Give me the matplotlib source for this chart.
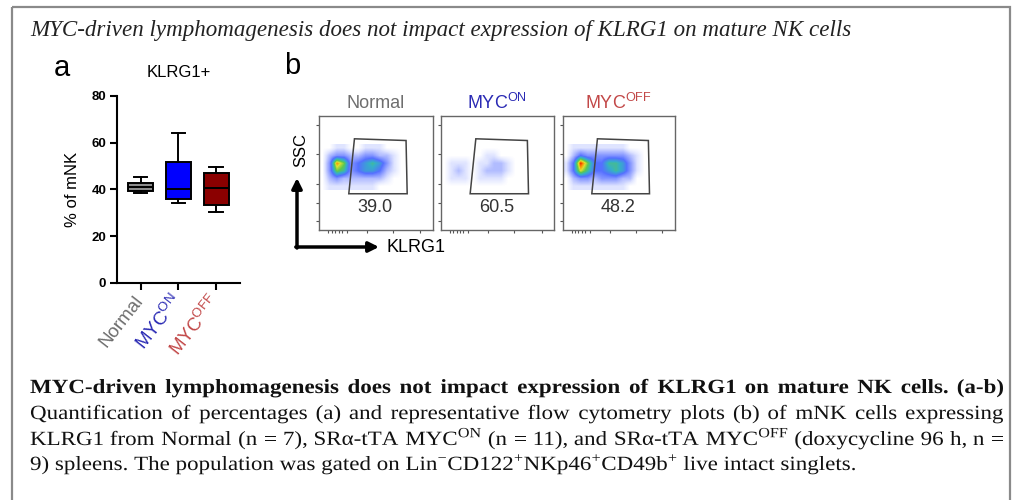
import numpy as np
import matplotlib.pyplot as plt
from matplotlib.colors import LinearSegmentedColormap
from matplotlib.patches import Rectangle, Polygon, PathPatch
from matplotlib.textpath import TextPath
from matplotlib.font_manager import FontProperties
from matplotlib.transforms import Affine2D, ScaledTranslation

plt.rcParams["font.family"] = ["Liberation Sans", "DejaVu Sans"]
plt.rcParams["mathtext.fontset"] = "custom"
plt.rcParams["mathtext.rm"] = "Liberation Serif"
plt.rcParams["mathtext.sf"] = "Liberation Sans"

# --- panel a: box plot (% of mNK that are KLRG1+) ---
groups = ["Normal", r"MYC$^{\mathsf{ON}}$", r"MYC$^{\mathsf{OFF}}$"]
# whisker low, q1, median, q3, whisker high
normal_stats = [38.3, 39.4, 41.1, 42.9, 45.4]
myc_on_stats = [34.0, 36.0, 40.3, 51.6, 64.0]
myc_off_stats = [30.3, 33.4, 40.4, 47.1, 49.4]
box_colors = ["#8c8c8c", "#0000ff", "#8b0000"]
label_colors = ["#6e6e6e", "#2a2ab4", "#c24848"]
yticks = [0, 20, 40, 60, 80]

# --- panel b: flow cytometry plots ---
flow_titles = ["Normal", r"MYC$^{\mathsf{ON}}$", r"MYC$^{\mathsf{OFF}}$"]
flow_pct = ["39.0", "60.5", "48.2"]
gate_x = [0.31, 0.765, 0.775, 0.26]
gate_y = [0.80, 0.785, 0.318, 0.318]
# coarse density (0 = empty, 10 = peak), rows top->bottom
dens_normal = [
    [0, 0, 1, 1, 0, 0, 1, 1, 1, 0, 0, 0],
    [0, 2, 3, 3, 2, 2, 3, 3, 2, 2, 1, 0],
    [0, 3, 9, 7, 3, 4, 5, 6, 5, 3, 1, 0],
    [0, 3, 7, 6, 3, 4, 5, 5, 4, 2, 1, 0],
    [0, 2, 3, 2, 2, 2, 2, 2, 2, 1, 0, 0],
    [0, 1, 1, 1, 1, 1, 1, 1, 0, 0, 0, 0],
]
dens_myc_on = [
    [0, 0, 0, 0, 0, 0, 0, 0, 0, 0, 0, 0],
    [0, 0, 0, 0, 0, 0, 1, 1, 0, 0, 0, 0],
    [0, 1, 1, 1, 0, 1, 1, 2, 2, 1, 0, 0],
    [0, 1, 2, 1, 0, 1, 2, 2, 2, 1, 0, 0],
    [0, 1, 1, 1, 0, 1, 1, 1, 1, 0, 0, 0],
    [0, 0, 0, 0, 0, 0, 0, 0, 0, 0, 0, 0],
]
dens_myc_off = [
    [0, 1, 1, 1, 1, 1, 1, 1, 1, 0, 0, 0],
    [0, 2, 4, 3, 3, 3, 3, 3, 3, 2, 1, 0],
    [1, 4, 10, 7, 4, 4, 6, 6, 5, 3, 1, 0],
    [1, 4, 8, 6, 4, 4, 5, 6, 5, 3, 1, 0],
    [0, 2, 3, 3, 2, 3, 3, 3, 2, 2, 0, 0],
    [0, 1, 1, 1, 1, 1, 1, 1, 1, 0, 0, 0],
]
densities = [dens_normal, dens_myc_on, dens_myc_off]

title = "MYC-driven lymphomagenesis does not impact expression of KLRG1 on mature NK cells"
caption_bold = "MYC-driven lymphomagenesis does not impact expression of KLRG1 on mature NK cells. (a-b)"
caption_lines = [
    "Quantification of percentages (a) and representative flow cytometry plots (b) of mNK cells expressing",
    r"KLRG1 from Normal (n = 7), SR$\mathrm{\alpha}$-tTA MYC$^{\mathrm{ON}}$ (n = 11), and SR$\mathrm{\alpha}$-tTA MYC$^{\mathrm{OFF}}$ (doxycycline 96 h, n =",
]
caption_last = r"9) spleens. The population was gated on Lin$^{\mathrm{-}}$CD122$^{+}$NKp46$^{+}$CD49b$^{+}$ live intact singlets."

W, H = 1013, 500
fig = plt.figure(figsize=(W / 100, H / 100), dpi=100)

# overlay in pixel coords for border, text and arrows
ov = fig.add_axes([0, 0, 1, 1])
ov.set_xlim(0, W)
ov.set_ylim(H, 0)
ov.axis("off")
ov.add_patch(Rectangle((12, 7), 998, 510, fill=False, edgecolor="#8a8a8a", lw=1.6))

ov.text(30, 36, title, fontsize=16.6, family="Liberation Serif", style="italic", color="#222222")
ov.text(62, 68, "a", fontsize=21, ha="center", va="center")
ov.text(292, 66, "b", fontsize=21, ha="center", va="center")

# box plot
ax = fig.add_axes([117.3 / W, 1 - 282.7 / H, 122.7 / W, 186.7 / H])
stats = []
for s in [normal_stats, myc_on_stats, myc_off_stats]:
    stats.append({"whislo": s[0], "q1": s[1], "med": s[2], "q3": s[3], "whishi": s[4], "fliers": []})
bp = ax.bxp(stats, positions=[1, 2, 3], widths=0.66, patch_artist=True, capwidths=0.36,
            boxprops=dict(edgecolor="black", lw=1.4),
            medianprops=dict(color="black", lw=1.4),
            whiskerprops=dict(color="black", lw=1.4),
            capprops=dict(color="black", lw=1.4))
for patch, c in zip(bp["boxes"], box_colors):
    patch.set_facecolor(c)
ax.set_xlim(0.385, 3.63)
ax.set_ylim(0, 80)
ax.set_yticks(yticks)
ax.set_yticklabels([str(v) for v in yticks], fontsize=9.5, fontweight="bold")
ax.set_xticks([1, 2, 3])
ax.set_xticklabels(groups, fontsize=13.5, rotation=52, ha="right", va="center", rotation_mode="anchor")
shift = ScaledTranslation(13 / 100, 0, fig.dpi_scale_trans)
for lab, c in zip(ax.get_xticklabels(), label_colors):
    lab.set_color(c)
    lab.set_transform(lab.get_transform() + shift)
ax.tick_params(width=1.5, length=5, pad=3)
ax.tick_params(axis="x", pad=6)
for sp in ["top", "right"]:
    ax.spines[sp].set_visible(False)
for sp in ["left", "bottom"]:
    ax.spines[sp].set_linewidth(1.5)
ax.set_title("KLRG1+", fontsize=12, pad=14)
ax.set_ylabel("% of mNK", fontsize=12, labelpad=8)
ax.patch.set_alpha(0)

# flow plots
cmap = LinearSegmentedColormap.from_list("flow", [
    (0.0, "#ffffff"), (0.1, "#dfe4ff"), (0.25, "#9aa8ff"), (0.4, "#5570ff"),
    (0.55, "#35b0c8"), (0.68, "#5cc850"), (0.8, "#dce030"), (0.9, "#ff8c00"), (1.0, "#e82000")])
flow_x = [(319.3, 432.7), (440.7, 554.0), (562.7, 674.7)]
for (x0, x1), ttl, c, pct, dens in zip(flow_x, flow_titles, label_colors, flow_pct, densities):
    fa = fig.add_axes([x0 / W, 1 - 230 / H, (x1 - x0) / W, 114 / H])
    fa.imshow(np.array(dens, dtype=float), extent=[0, 0.75, 0.35, 0.75], cmap=cmap, vmin=0, vmax=10,
              interpolation="bilinear", aspect="auto", origin="upper")
    fa.add_patch(Polygon(list(zip(gate_x, gate_y)), closed=True, fill=False, edgecolor="#444444", lw=1.1))
    fa.text(0.49, 0.2, pct, fontsize=13, ha="center", va="center", color="#333333")
    fa.set_xlim(0, 1)
    fa.set_ylim(0, 1)
    fa.set_xticks([0.08, 0.11, 0.14, 0.17, 0.2, 0.24, 0.42, 0.65, 0.89])
    fa.set_yticks([0.08, 0.24, 0.40, 0.67, 0.92])
    fa.set_xticklabels([])
    fa.set_yticklabels([])
    fa.tick_params(length=2.5, width=0.8, color="#555555")
    for sp in fa.spines.values():
        sp.set_edgecolor("#666666")
        sp.set_linewidth(1.0)
    ov.text((x0 + x1) / 2, 103, ttl, fontsize=13, ha="center", va="center", color=c)

# axis arrows for panel b
ov.annotate("", xy=(297, 178), xytext=(297, 248),
            arrowprops=dict(arrowstyle="-|>,head_length=0.6,head_width=0.3", lw=2.5, color="black", shrinkA=0, shrinkB=0))
ov.annotate("", xy=(379, 247), xytext=(295.8, 247),
            arrowprops=dict(arrowstyle="-|>,head_length=0.6,head_width=0.3", lw=2.5, color="black", shrinkA=0, shrinkB=0))
ov.text(301, 150, "SSC", fontsize=12, rotation=90, ha="center", va="center")
ov.text(387, 248, "KLRG1", fontsize=13, ha="left", va="center")

# caption: Times-like text, justified between x=30 and x=1003
cap_size = 14.5 * 100 / 72


def text_path(s, bold=False):
    fp = FontProperties(family="Liberation Serif", weight="bold" if bold else "normal")
    return TextPath((0, 0), s, size=cap_size, prop=fp)


# horizontal scale so the longest plain line nearly fills the column
cap_sx = 940 / text_path(caption_lines[0]).get_extents().x1


def put_path(p, x, y):
    tr = Affine2D().scale(cap_sx, -1).translate(x, y) + ov.transData
    ov.add_patch(PathPatch(p, transform=tr, facecolor="#111111", edgecolor="none", lw=0))


def justify(line, y, x0=30, x1=1003, bold=False):
    paths = [text_path(w, bold) for w in line.split(" ")]
    widths = [p.get_extents().x1 * cap_sx for p in paths]
    gap = (x1 - x0 - sum(widths)) / (len(paths) - 1)
    x = x0
    for p, w in zip(paths, widths):
        put_path(p, x, y)
        x += w + gap


justify(caption_bold, 393, bold=True)
justify(caption_lines[0], 419)
justify(caption_lines[1], 445)
put_path(text_path(caption_last), 30, 470)

fig.savefig("out.png", dpi=100)
